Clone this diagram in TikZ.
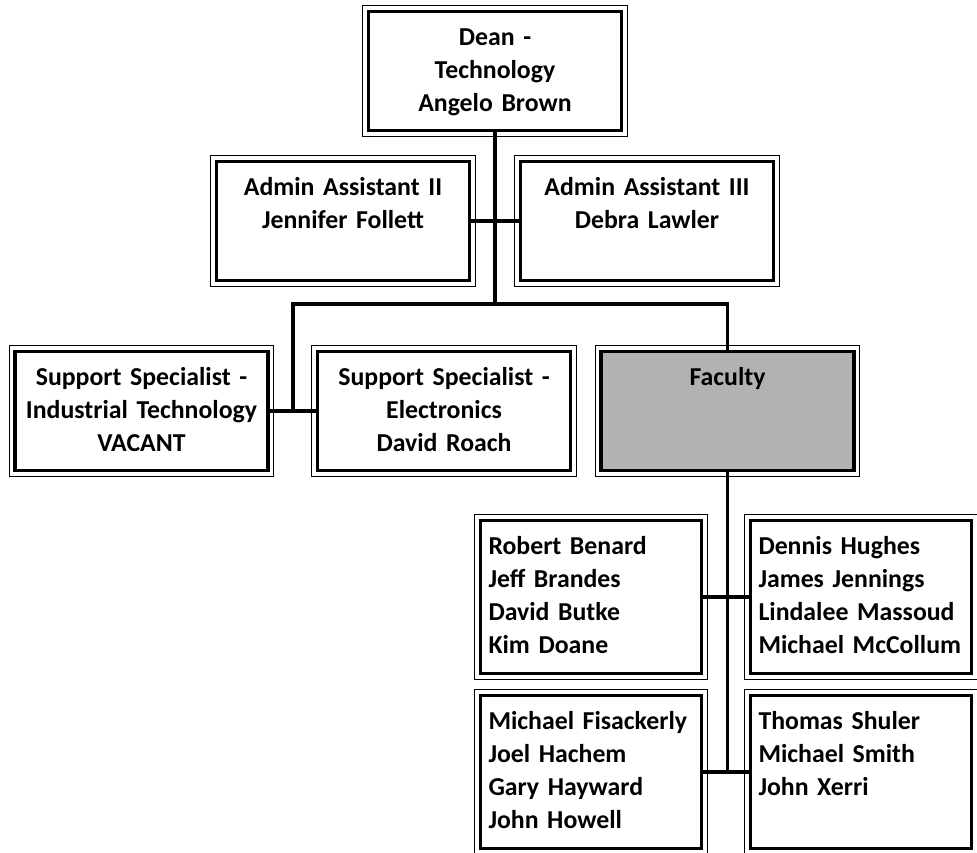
\documentclass[tikz,border=0pt]{standalone}
\usepackage{fontspec}
\setmainfont{Carlito}
\usepackage{tikz}
\usetikzlibrary{positioning, calc}
\definecolor{FacultyGray}{HTML}{B2B2B2}
\newcommand{\orgfont}{\fontsize{25.8}{33}\selectfont\bfseries}

\begin{document}
\begin{tikzpicture}[x=1pt, y=-1pt,
  frame/.style={append after command={\pgfextra{\draw[line width=0.9pt] ([shift={(-4pt,-4pt)}]\tikzlastnode.south west) rectangle ([shift={(4pt,4pt)}]\tikzlastnode.north east);}}},
  unit/.style={draw, line width=3.2pt, fill=#1, inner sep=0pt, inner xsep=6.3pt, minimum width=253pt, minimum height=119pt, text width=240pt, text height=34pt, text depth=85pt, align=center, font=\orgfont, frame},
  unit/.default=white,
  staff/.style={unit, minimum width=221pt, minimum height=153pt, text depth=119pt, text width=205pt, inner xsep=8pt, align=left},
  link/.style={line width=3.5pt}
]
\useasboundingbox (0,0) rectangle (977,853);
\node[unit] (dean) at (495,71) {Dean -\\Technology\\Angelo Brown};
\node[unit] (admin2) at (343,221) {Admin Assistant II\\Jennifer Follett};
\node[unit] (admin3) at (647,221) {Admin Assistant III\\Debra Lawler};
\node[unit] (specit) at (141.5,411) {Support Specialist -\\Industrial Technology\\VACANT};
\node[unit] (specel) at (444,411) {Support Specialist -\\Electronics\\David Roach};
\node[unit=FacultyGray] (faculty) at (727.5,411) {Faculty};
\node[staff] (staffa) at (591,597) {Robert Benard\\Jeff Brandes\\David Butke\\Kim Doane};
\node[staff] (staffb) at (861,597) {Dennis Hughes\\James Jennings\\Lindalee Massoud\\Michael McCollum};
\node[staff] (staffc) at (591,772) {Michael Fisackerly\\Joel Hachem\\Gary Hayward\\John Howell};
\node[staff] (staffd) at (861,772) {Thomas Shuler\\Michael Smith\\John Xerri};
% connectors
\coordinate (fork) at (495,304);
\coordinate (specjoin) at ($(specit.east)!0.5!(specel.west)$);
\draw[link] (dean.south) -- (fork);
\draw[link] (admin2.east) -- (admin3.west);
\draw[link] (specjoin) |- (fork) -| (faculty.north);
\draw[link] (specit.east) -- (specel.west);
\draw[link] (faculty.south) -- (faculty.south |- staffc.east);
\draw[link] (staffa.east) -- (staffb.west);
\draw[link] (staffc.east) -- (staffd.west);
\end{tikzpicture}
\end{document}
